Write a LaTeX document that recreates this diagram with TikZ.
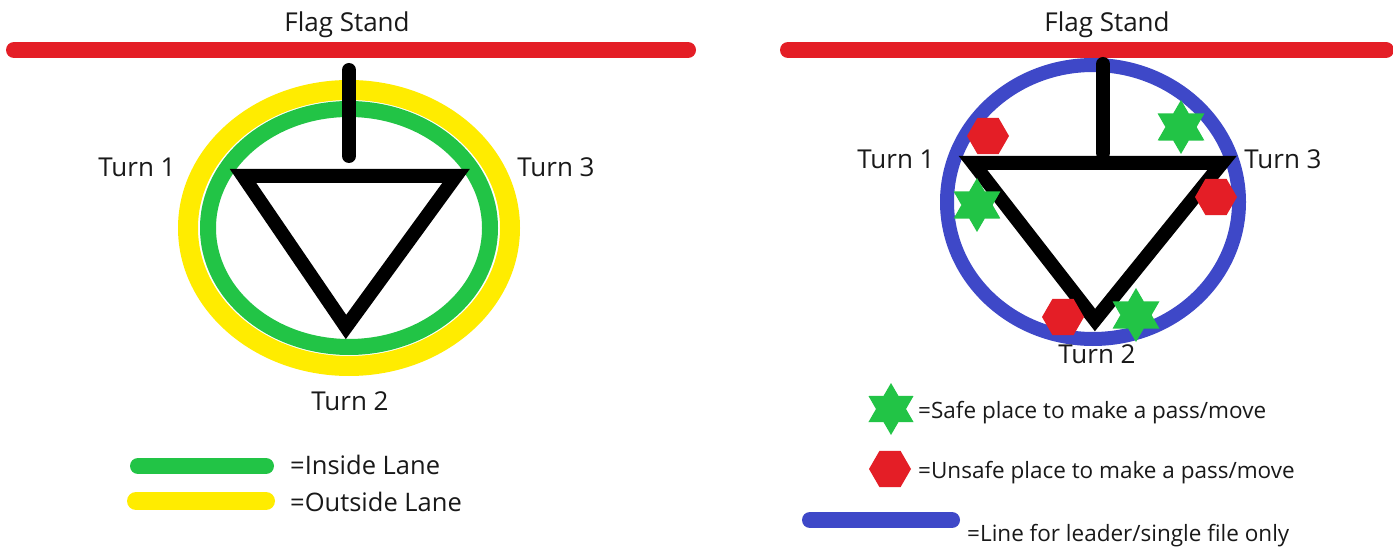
\documentclass[tikz,border=0pt]{standalone}
\usepackage{fontspec}
\setmainfont{Open Sans}
\usetikzlibrary{shapes.geometric}
\definecolor{flagred}{RGB}{228,30,38}
\definecolor{lanegreen}{RGB}{34,196,70}
\definecolor{laneyellow}{RGB}{255,236,0}
\definecolor{leadblue}{RGB}{62,72,200}
\definecolor{txt}{RGB}{25,25,25}
\tikzset{
  lbl/.style={text=txt,font=\fontsize{26}{30}\selectfont,inner sep=0pt,anchor=base},
  leglbl/.style={text=txt,font=\fontsize{25.5}{30}\selectfont,inner sep=0pt,anchor=base west},
  smalllbl/.style={text=txt,font=\fontsize{22.5}{26}\selectfont,inner sep=0pt,anchor=base west},
  flagline/.style={draw=flagred,line width=16pt,line cap=round},
  track/.style={draw=black,line width=14pt,line cap=round},
  tri/.style={draw=black,line width=14pt,line join=miter},
  safe/.style={star,star points=6,star point ratio=1.73,fill=lanegreen,minimum size=54pt,inner sep=0pt,draw=none},
  unsafe/.style={regular polygon,regular polygon sides=6,fill=flagred,minimum size=42pt,inner sep=0pt,draw=none},
  legbar/.style={line width=16pt,line cap=round}
}
\begin{document}
\begin{tikzpicture}[x=1pt,y=-1pt]
\useasboundingbox[fill=white] (0,0) rectangle (1393,548);
% ---------------- left diagram ----------------
\node[lbl] (fsL) at (347,32) {Flag Stand};
\coordinate (rLa) at (14,50);
\coordinate (rLb) at (688,50);
\draw[flagline] (rLa) -- (rLb);
\draw[draw=laneyellow,line width=20pt] (349,228) ellipse [x radius=161,y radius=138];
\draw[draw=lanegreen,line width=16pt] (349,228) ellipse [x radius=141,y radius=119];
\coordinate (sLa) at (349,70);
\coordinate (sLb) at (349,156);
\draw[track] (sLa) -- (sLb);
\coordinate (t1L) at (243,176);
\coordinate (t3L) at (456,176);
\coordinate (t2L) at (346,327);
\draw[tri] (t1L) -- (t3L) -- (t2L) -- cycle;
\node[lbl] (turn1L) at (137,177) {Turn 1};
\node[lbl] (turn3L) at (556,177) {Turn 3};
\node[lbl] (turn2L) at (350,410) {Turn 2};
% legend left
\coordinate (gA) at (138,466);
\coordinate (gB) at (266,466);
\draw[legbar,draw=lanegreen] (gA) -- (gB);
\coordinate (yA) at (136,501);
\coordinate (yB) at (266,501);
\draw[legbar,draw=laneyellow,line width=18pt] (yA) -- (yB);
\node[leglbl] (inL) at (290,474) {=Inside Lane};
\node[leglbl] (outL) at (290,511) {=Outside Lane};
% ---------------- right diagram ----------------
\node[lbl] (fsR) at (1107,32) {Flag Stand};
\coordinate (rRa) at (788,50);
\coordinate (rRb) at (1386,50);
\draw[flagline] (rRa) -- (rRb);
\draw[draw=leadblue,line width=14pt] (1093,202) ellipse [x radius=146,y radius=137];
\coordinate (sRa) at (1103,64);
\coordinate (sRb) at (1103,153);
\draw[track] (sRa) -- (sRb);
\coordinate (t1R) at (973,163);
\coordinate (t3R) at (1222,163);
\coordinate (t2R) at (1095,320);
\draw[tri] (t1R) -- (t3R) -- (t2R) -- cycle;
\node[unsafe] (u1) at (988,136) {};
\node[unsafe] (u2) at (1216,197) {};
\node[unsafe] (u3) at (1063,317) {};
\node[safe] (s1) at (1181,127) {};
\node[safe] (s2) at (977,205) {};
\node[safe] (s3) at (1136,315) {};
\node[lbl] (turn1R) at (896,169) {Turn 1};
\node[lbl] (turn3R) at (1283,169) {Turn 3};
\node[lbl] (turn2R) at (1097,363) {Turn 2};
% legend right
\node[safe,minimum size=52pt] (ls) at (891,409) {};
\node[smalllbl] (lsT) at (918,418) {=Safe place to make a pass/move};
\node[unsafe,minimum size=42pt] (lu) at (890,469) {};
\node[smalllbl] (luT) at (918,478) {=Unsafe place to make a pass/move};
\coordinate (bA) at (810,520);
\coordinate (bB) at (952,520);
\draw[legbar,draw=leadblue] (bA) -- (bB);
\node[smalllbl] (lbT) at (967,541) {=Line for leader/single file only};
\end{tikzpicture}
\end{document}
